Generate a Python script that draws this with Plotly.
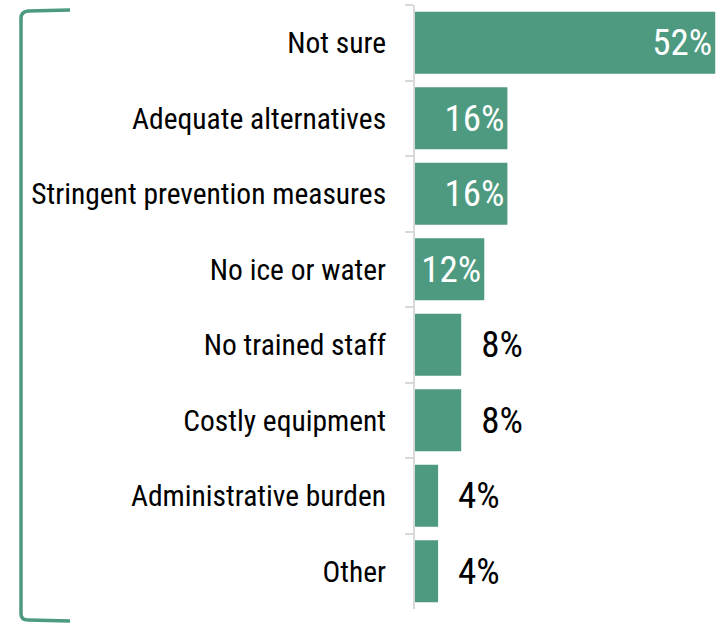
import plotly.graph_objects as go

categories = ["Not sure", "Adequate alternatives", "Stringent prevention measures",
              "No ice or water", "No trained staff", "Costly equipment",
              "Administrative burden", "Other"]
values = [52, 16, 16, 12, 8, 8, 4, 4]

GREEN = "#4d9a80"
FONT = "Roboto Condensed, Liberation Sans Narrow, Arial Narrow, sans-serif"

inside = [v >= 10 for v in values]
texts = [f"{v}%" if ins else f"  {v}%" for v, ins in zip(values, inside)]
positions = ["inside" if ins else "outside" for ins in inside]
colors = ["white" if ins else "black" for ins in inside]

fig = go.Figure(go.Bar(
    x=values, y=categories, orientation="h",
    marker=dict(color=GREEN, line=dict(width=0)),
    text=texts, textposition=positions, insidetextanchor="end",
    textfont=dict(family=FONT, size=37, color=colors),
    cliponaxis=False, hoverinfo="skip",
))

W, H = 721, 623
L, R, T, B = 415, 0, 5, 14
pw, ph = W - L - R, H - T - B

def px(x):
    return (x - L) / pw

def py(y):
    return (H - B - y) / ph

path = (f"M {px(70)} {py(10)} L {px(28)} {py(11)} Q {px(21)} {py(12)} {px(21)} {py(18)} "
        f"L {px(21)} {py(614)} Q {px(21)} {py(620)} {px(28)} {py(620)} L {px(70)} {py(621)}")

fig.update_layout(
    width=W, height=H,
    margin=dict(l=L, r=R, t=T, b=B),
    plot_bgcolor="white", paper_bgcolor="white",
    bargap=0.18,
    showlegend=False,
    font=dict(family=FONT, size=29.5, color="black"),
    xaxis=dict(range=[0, 53], visible=False, fixedrange=True),
    yaxis=dict(
        autorange="reversed", type="category",
        tickson="boundaries", ticks="outside", ticklen=8, tickwidth=2,
        tickcolor="#d9d9d9", showline=True, linecolor="#d9d9d9", linewidth=2,
        showgrid=False, ticklabelstandoff=21,
        tickfont=dict(family=FONT, size=29.5, color="black"),
    ),
    shapes=[dict(type="path", xref="paper", yref="paper", path=path,
                 line=dict(color=GREEN, width=3.5), layer="above")],
    uniformtext=dict(mode=False),
)

fig.write_html("out.html")
